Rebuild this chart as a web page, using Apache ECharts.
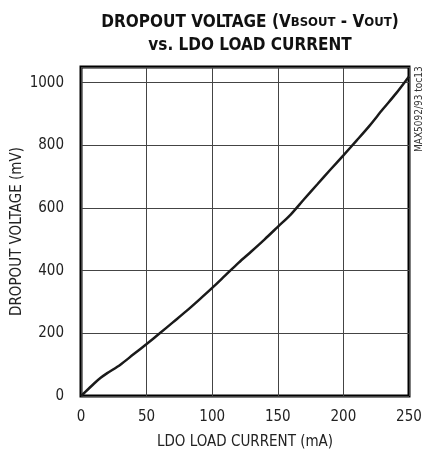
<!DOCTYPE html>
<html>
<head>
<meta charset="utf-8">
<script src="https://cdn.jsdelivr.net/npm/echarts@6/dist/echarts.min.js"></script>
<style>
  html, body { margin: 0; padding: 0; background: #fff; }
  #chart { width: 423px; height: 454px; }
</style>
</head>
<body>
<div id="chart"></div>
<script>
// load current (mA) vs dropout voltage (mV)
const loadCurrent = [0, 2, 5, 10, 15, 20, 30, 40, 50, 60, 70, 80, 90, 100, 110, 120, 130, 140, 150, 160, 170, 180, 190, 200, 210, 220, 230, 240, 250];
const dropout = [0, 8, 20, 40, 58, 73, 100, 133, 166, 200, 235, 270, 307, 345, 385, 425, 462, 500, 540, 580, 628, 675, 722, 768, 815, 863, 915, 965, 1020];

const FONT = '"Liberation Sans Narrow", "DejaVu Sans Condensed", sans-serif';

var myChart = echarts.init(document.getElementById("chart"));
myChart.setOption({
  animation: false,
  title: {
    text: "{b|DROPOUT VOLTAGE (V}{s|BSOUT}{b| - V}{s|OUT}{b|)}\n{b|vs. LDO LOAD CURRENT}",
    left: 245,
    textAlign: "center",
    top: 6,
    textStyle: {
      rich: {
        b: { fontFamily: FONT, fontWeight: "bold", fontSize: 17, color: "#111", lineHeight: 23 },
        s: { fontFamily: FONT, fontWeight: "bold", fontSize: 13, color: "#111", lineHeight: 23 },
      },
    },
  },
  grid: {
    left: 81,
    top: 67,
    width: 328,
    height: 329,
    outerBoundsMode: "none",
    containLabel: false,
    show: true,
    borderColor: "#000",
    borderWidth: 3,
  },
  xAxis: {
    type: "value",
    min: 0,
    max: 250,
    interval: 50,
    name: "LDO LOAD CURRENT (mA)",
    nameLocation: "middle",
    nameGap: 39,
    nameMoveOverlap: false,
    nameTextStyle: { fontFamily: FONT, fontSize: 15, color: "#222" },
    axisLine: { show: false },
    axisTick: { show: false },
    axisLabel: { fontFamily: FONT, fontSize: 15, color: "#222", margin: 14 },
    splitLine: { lineStyle: { color: "#444", width: 1 } },
  },
  yAxis: {
    type: "value",
    min: 0,
    max: 1050,
    interval: 200,
    name: "DROPOUT VOLTAGE (mV)",
    nameLocation: "middle",
    nameGap: 56,
    nameMoveOverlap: false,
    nameTextStyle: { fontFamily: FONT, fontSize: 15, color: "#222" },
    axisLine: { show: false },
    axisTick: { show: false },
    axisLabel: {
      fontFamily: FONT, fontSize: 15, color: "#222", margin: 17,
      formatter: function (v) { return v % 200 === 0 ? v : ""; },
    },
    splitLine: { lineStyle: { color: "#444", width: 1 } },
  },
  graphic: [
    {
      type: "text",
      x: 414,
      y: 152,
      rotation: Math.PI / 2,
      style: { text: "MAX5092/93 toc13", fontFamily: FONT, fontSize: 10, fill: "#333" },
    },
  ],
  series: [
    {
      type: "line",
      data: loadCurrent.map((x, i) => [x, dropout[i]]),
      showSymbol: false,
      smooth: 0.3,
      lineStyle: { color: "#1a1a1a", width: 2.5 },
    },
  ],
});
</script>
</body>
</html>
